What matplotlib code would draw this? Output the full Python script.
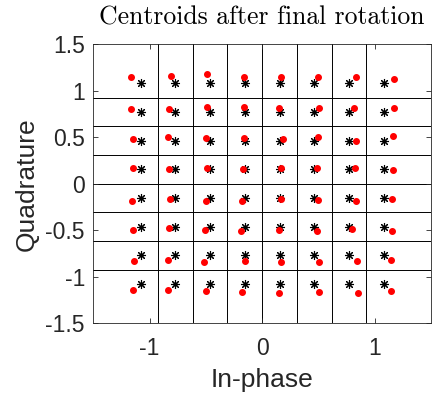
import numpy as np
import matplotlib
matplotlib.use('Agg')
import matplotlib.pyplot as plt

# 64-QAM reference levels (unit average power)
levels = np.array([-7, -5, -3, -1, 1, 3, 5, 7]) / np.sqrt(42)
# decision boundaries between neighbouring levels
bounds = np.array([-6, -4, -2, 0, 2, 4, 6]) / np.sqrt(42)

# estimated centroids, rows from top (Q high) to bottom, columns left to right
cent_i = [
    [-1.163, -0.807, -0.493, -0.164, 0.164, 0.499, 0.834, 1.169],
    [-1.169, -0.828, -0.493, -0.164, 0.153, 0.505, 0.816, 1.172],
    [-1.148, -0.834, -0.502, -0.161, 0.185, 0.493, 0.831, 1.160],
    [-1.145, -0.825, -0.490, -0.170, 0.170, 0.484, 0.828, 1.157],
    [-1.157, -0.816, -0.499, -0.176, 0.170, 0.493, 0.834, 1.151],
    [-1.145, -0.831, -0.508, -0.188, 0.147, 0.490, 0.796, 1.154],
    [-1.139, -0.837, -0.520, -0.156, 0.164, 0.502, 0.843, 1.142],
    [-1.148, -0.840, -0.499, -0.176, 0.150, 0.508, 0.849, 1.145],
]
cent_q = [
    [1.145, 1.159, 1.185, 1.149, 1.145, 1.149, 1.152, 1.131],
    [0.808, 0.805, 0.826, 0.830, 0.819, 0.812, 0.815, 0.815],
    [0.486, 0.500, 0.493, 0.489, 0.486, 0.504, 0.457, 0.511],
    [0.167, 0.156, 0.167, 0.159, 0.167, 0.174, 0.167, 0.152],
    [-0.188, -0.167, -0.181, -0.181, -0.167, -0.174, -0.181, -0.160],
    [-0.493, -0.478, -0.500, -0.504, -0.496, -0.507, -0.489, -0.507],
    [-0.826, -0.823, -0.844, -0.833, -0.840, -0.844, -0.826, -0.823],
    [-1.145, -1.145, -1.152, -1.163, -1.174, -1.167, -1.174, -1.149],
]

xticks = [-1, 0, 1]
yticks = [-1.5, -1, -0.5, 0, 0.5, 1, 1.5]

plt.rcParams['font.family'] = ['Liberation Sans', 'DejaVu Sans']
axcol = '#262626'

fig = plt.figure(figsize=(4.32, 3.99), dpi=100)
ax = fig.add_axes([0.216, 0.19, 0.782, 0.699])

for b in bounds:
    ax.axvline(b, color='k', lw=0.7, zorder=1)
    ax.axhline(b, color='k', lw=0.7, zorder=1)

ii, qq = np.meshgrid(levels, levels)
ax.plot(ii.ravel(), qq.ravel(), linestyle='none', marker=(8, 2, 0),
        color='k', markersize=6.5, markeredgewidth=0.8, zorder=3)
ax.plot(np.ravel(cent_i), np.ravel(cent_q), linestyle='none', marker='o',
        color='red', markersize=4, zorder=4)

ax.set_xlim(-1.5, 1.5)
ax.set_ylim(-1.5, 1.5)
ax.set_xticks(xticks)
ax.set_yticks(yticks)
ax.set_xticklabels(['-1', '0', '1'])
ax.set_yticklabels(['-1.5', '-1', '-0.5', '0', '0.5', '1', '1.5'])
ax.tick_params(direction='in', length=3.5, width=0.6, colors=axcol,
               labelsize=16.5, top=True, right=True)
ax.tick_params(axis='x', pad=10)
ax.tick_params(axis='y', pad=6)
for s in ax.spines.values():
    s.set_color(axcol)
    s.set_linewidth(0.6)

ax.set_xlabel('In-phase', fontsize=19, color=axcol, labelpad=6)
ax.set_ylabel('Quadrature', fontsize=19, color=axcol, labelpad=5)
ax.set_title('Centroids after final rotation', fontfamily='cmr10',
             fontsize=18.5, pad=14)

fig.savefig('out.png', dpi=100)
